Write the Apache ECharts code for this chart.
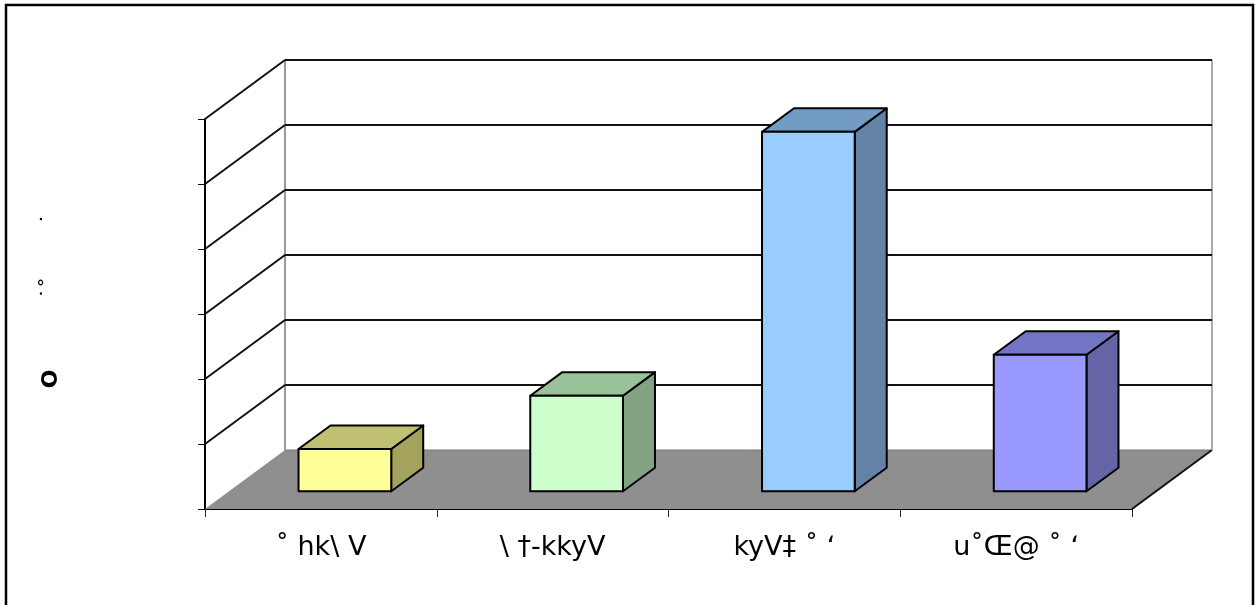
<!DOCTYPE html>
<html>
<head>
<meta charset="utf-8">
<script src="https://cdn.jsdelivr.net/npm/echarts@6/dist/echarts.min.js"></script>
<style>
  html, body { margin: 0; padding: 0; background: #ffffff; }
  #chart { width: 1255px; height: 605px; }
</style>
</head>
<body>
<div id="chart"></div>
<script>
// Category labels along the floor
const categories = ['˚ hk\\ V', '\\ †-kkyV', 'kyV‡ ˚ ʻ', 'u˚Œ@ ˚ ʻ'];
// Bar values
const values = [6.5, 14.7, 55.3, 21.0];
// Value levels drawn as wall grid lines
const valueTicks = [0, 10, 20, 30, 40, 50, 60];

// Box shading: front face, top face, side face
const faceColors = ['#FFFF99', '#CCFFCC', '#99CCFF', '#9999FF'];
const topColors  = ['#C0C072', '#99C299', '#739CC4', '#7474C4'];
const sideColors = ['#A3A35E', '#82A382', '#6282A6', '#6464A6'];

// Oblique depth of the plot box (screen pixels from front plane to back wall)
const DX = 80, DY = -59;
// Bars occupy this slice of the depth
const D0 = 0.3, D1 = 0.7;
// Bar front width as a share of the category band
const BAR_SHARE = 0.4;

const chart = echarts.init(document.getElementById('chart'), null, { renderer: 'canvas' });

function renderFloor(params, api) {
  const cs = params.coordSys;
  const y0 = api.coord([0, 0])[1];
  const xl = cs.x, xr = cs.x + cs.width;
  return {
    type: 'group',
    children: [
      { type: 'polygon', shape: { points: [[xl, y0], [xr, y0], [xr + DX, y0 + DY], [xl + DX, y0 + DY]] },
        style: { fill: '#8F8F8F', stroke: null } },
      { type: 'line', shape: { x1: xl + DX, y1: y0 + DY, x2: xr + DX, y2: y0 + DY },
        style: { stroke: '#7A7A7A', lineWidth: 1 } },
      { type: 'line', shape: { x1: xr, y1: y0, x2: xr + DX, y2: y0 + DY },
        style: { stroke: '#111111', lineWidth: 2 } },
      // back wall vertical edges
      { type: 'line', shape: { x1: xl + DX, y1: cs.y + DY, x2: xl + DX, y2: y0 + DY },
        style: { stroke: '#999999', lineWidth: 2 } },
      { type: 'line', shape: { x1: xr + DX, y1: cs.y + DY, x2: xr + DX, y2: y0 + DY },
        style: { stroke: '#AAAAAA', lineWidth: 2 } }
    ]
  };
}

function renderWallLine(params, api) {
  const cs = params.coordSys;
  const v = api.value(1);
  if (v === 0) return { type: 'group', children: [] };
  const y = api.coord([0, v])[1];
  const xl = cs.x, xr = cs.x + cs.width;
  return {
    type: 'group',
    children: [
      { type: 'line', shape: { x1: xl, y1: y, x2: xl + DX, y2: y + DY },
        style: { stroke: '#111111', lineWidth: 2 } },
      { type: 'line', shape: { x1: xl + DX, y1: y + DY, x2: xr + DX, y2: y + DY },
        style: { stroke: '#111111', lineWidth: 2 } }
    ]
  };
}

function renderBox(params, api) {
  const i = api.value(0);
  const v = api.value(1);
  const base = api.coord([i, 0]);
  const top = api.coord([i, v]);
  const band = api.size([1, 0])[0];
  const w = band * BAR_SHARE;
  const x0 = base[0] - w / 2 + D0 * DX;
  const x1 = x0 + w;
  const yb = base[1] + D0 * DY;
  const yt = top[1] + D0 * DY;
  const ddx = (D1 - D0) * DX, ddy = (D1 - D0) * DY;
  const edge = { stroke: '#000000', lineWidth: 2, lineJoin: 'round' };
  return {
    type: 'group',
    children: [
      { type: 'polygon', shape: { points: [[x1, yb], [x1, yt], [x1 + ddx, yt + ddy], [x1 + ddx, yb + ddy]] },
        style: Object.assign({ fill: sideColors[i] }, edge) },
      { type: 'polygon', shape: { points: [[x0, yt], [x1, yt], [x1 + ddx, yt + ddy], [x0 + ddx, yt + ddy]] },
        style: Object.assign({ fill: topColors[i] }, edge) },
      { type: 'rect', shape: { x: x0, y: yt, width: w, height: yb - yt },
        style: Object.assign({ fill: faceColors[i] }, edge) }
    ]
  };
}

const option = {
  backgroundColor: '#ffffff',
  animation: false,
  grid: { left: 205, right: 123, top: 119, bottom: 96 },
  xAxis: {
    type: 'category',
    data: categories,
    boundaryGap: true,
    axisLine: { show: true, lineStyle: { color: '#000000', width: 2 } },
    axisTick: { show: true, alignWithLabel: false, length: 8, lineStyle: { color: '#222222', width: 1 } },
    axisLabel: { color: '#000000', fontFamily: 'DejaVu Sans', fontSize: 27, margin: 25, interval: 0 },
    splitLine: { show: false }
  },
  yAxis: {
    type: 'value',
    min: 0,
    max: 60,
    interval: 10,
    axisLine: { show: true, lineStyle: { color: '#000000', width: 2 } },
    axisTick: { show: true, length: 7, lineStyle: { color: '#000000', width: 1 } },
    axisLabel: { show: false },
    splitLine: { show: false }
  },
  graphic: [
    { type: 'rect', shape: { x: 6, y: 5, width: 1247, height: 620 },
      style: { fill: null, stroke: '#000000', lineWidth: 2.5 }, silent: true, z: 100 },
    { type: 'text', x: 51, y: 379, rotation: Math.PI / 2,
      style: { text: 'O', fontFamily: 'DejaVu Sans', fontSize: 22, fontWeight: 'bold', fill: '#000000', align: 'center', verticalAlign: 'middle' } },
    { type: 'text', x: 50, y: 288, rotation: Math.PI / 2,
      style: { text: '˙˚', fontFamily: 'DejaVu Sans', fontSize: 22, fill: '#000000', align: 'center', verticalAlign: 'middle' } },
    { type: 'text', x: 50, y: 219, rotation: Math.PI / 2,
      style: { text: '˙', fontFamily: 'DejaVu Sans', fontSize: 22, fill: '#000000', align: 'center', verticalAlign: 'middle' } }
  ],
  series: [
    {
      type: 'custom',
      name: 'floor',
      renderItem: renderFloor,
      data: [[0, 0]],
      encode: { x: 0, y: 1 },
      clip: false,
      z: 1,
      silent: true
    },
    {
      type: 'custom',
      name: 'walls',
      renderItem: renderWallLine,
      data: valueTicks.map(function (v) { return [0, v]; }),
      encode: { x: 0, y: 1 },
      clip: false,
      z: 2,
      silent: true
    },
    {
      type: 'custom',
      name: 'bars',
      renderItem: renderBox,
      data: values.map(function (v, i) { return [i, v]; }),
      encode: { x: 0, y: 1 },
      clip: false,
      z: 3
    }
  ]
};

chart.setOption(option);
</script>
</body>
</html>
